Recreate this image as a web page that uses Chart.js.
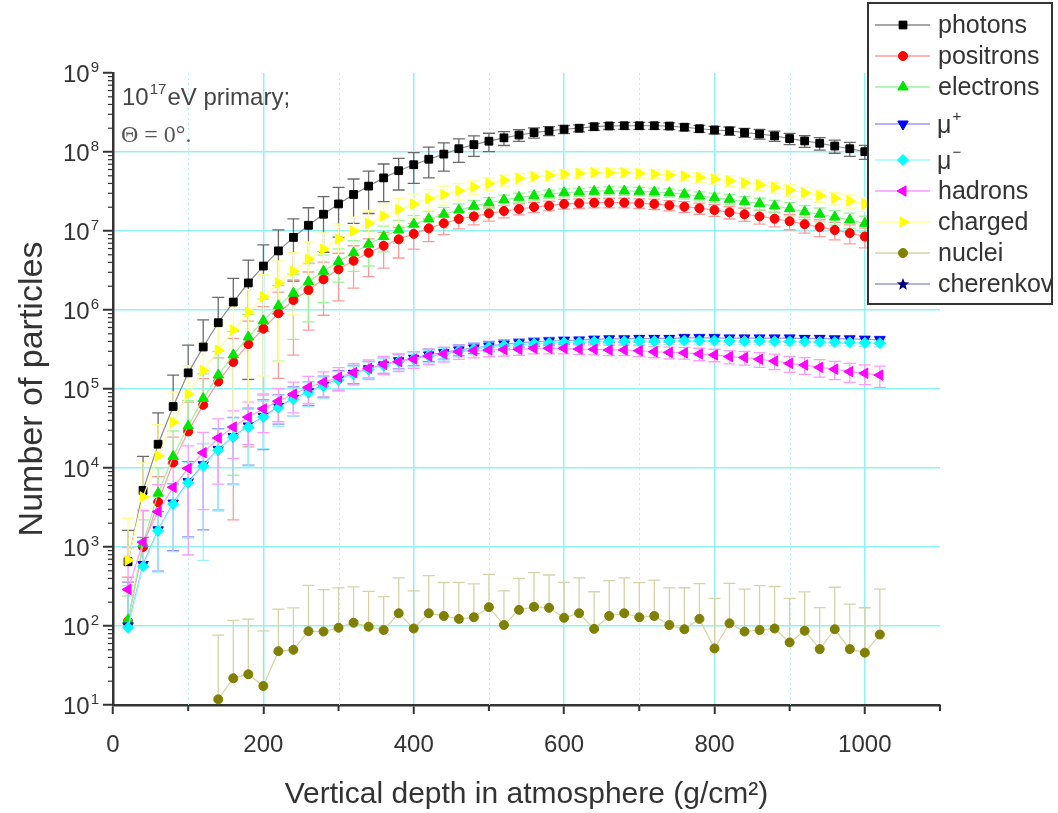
<!DOCTYPE html>
<html>
<head>
<meta charset="utf-8">
<script src="https://cdn.jsdelivr.net/npm/chart.js"></script>
<style>
  html, body { margin: 0; padding: 0; background: #fff; }
  canvas { display: block; }
</style>
</head>
<body>
<canvas id="myChart" width="1058" height="813"></canvas>
<script>
// depth in g/cm2
const depth = [20, 40, 60, 80, 100, 120, 140, 160, 180, 200,
  220, 240, 260, 280, 300, 320, 340, 360, 380, 400,
  420, 440, 460, 480, 500, 520, 540, 560, 580, 600,
  620, 640, 660, 680, 700, 720, 740, 760, 780, 800,
  820, 840, 860, 880, 900, 920, 940, 960, 980, 1000, 1020];

const seriesNames = ['photons', 'positrons', 'electrons', 'μ+', 'μ-', 'hadrons', 'charged', 'nuclei', 'cherenkov'];

const photons = [650, 5200, 2.0e4, 6.0e4, 1.6e5, 3.4e5, 6.9e5, 1.26e6, 2.2e6, 3.6e6,
  5.6e6, 8.3e6, 1.18e7, 1.63e7, 2.2e7, 2.9e7, 3.7e7, 4.7e7, 5.8e7, 6.9e7,
  8.1e7, 9.4e7, 1.1e8, 1.24e8, 1.37e8, 1.51e8, 1.64e8, 1.76e8, 1.85e8, 1.94e8,
  2.0e8, 2.09e8, 2.14e8, 2.15e8, 2.15e8, 2.15e8, 2.13e8, 2.06e8, 1.97e8, 1.9e8,
  1.85e8, 1.76e8, 1.69e8, 1.6e8, 1.48e8, 1.38e8, 1.29e8, 1.19e8, 1.1e8, 1.01e8, 9.3e7];
const positrons = [115, 1000, 3700, 1.17e4, 2.9e4, 6.3e4, 1.24e5, 2.2e5, 3.7e5, 5.8e5,
  9.1e5, 1.34e6, 1.79e6, 2.45e6, 3.27e6, 4.2e6, 5.3e6, 6.5e6, 7.85e6, 9.2e6,
  1.08e7, 1.25e7, 1.42e7, 1.53e7, 1.67e7, 1.79e7, 1.9e7, 2.01e7, 2.09e7, 2.2e7,
  2.24e7, 2.28e7, 2.28e7, 2.28e7, 2.24e7, 2.2e7, 2.11e7, 2.03e7, 1.94e7, 1.84e7,
  1.73e7, 1.63e7, 1.53e7, 1.43e7, 1.33e7, 1.22e7, 1.12e7, 1.03e7, 9.4e6, 8.5e6, 7.8e6];
const electrons = [120, 1100, 4800, 1.4e4, 3.4e4, 7.6e4, 1.5e5, 2.7e5, 4.55e5, 7.3e5,
  1.13e6, 1.63e6, 2.28e6, 3.1e6, 4.1e6, 5.3e6, 6.8e6, 8.5e6, 1.03e7, 1.22e7,
  1.42e7, 1.63e7, 1.84e7, 2.07e7, 2.28e7, 2.47e7, 2.67e7, 2.8e7, 2.94e7, 3.05e7,
  3.12e7, 3.18e7, 3.24e7, 3.21e7, 3.18e7, 3.12e7, 3.05e7, 2.92e7, 2.77e7, 2.64e7,
  2.52e7, 2.35e7, 2.22e7, 2.07e7, 1.92e7, 1.75e7, 1.63e7, 1.5e7, 1.38e7, 1.25e7, 1.15e7];
const muPlus = [100, 600, 1650, 3600, 6700, 1.1e4, 1.72e4, 2.5e4, 3.4e4, 4.5e4,
  6.0e4, 7.6e4, 9.2e4, 1.12e5, 1.33e5, 1.58e5, 1.8e5, 2.02e5, 2.28e5, 2.45e5,
  2.7e5, 2.88e5, 3.12e5, 3.3e5, 3.5e5, 3.7e5, 3.85e5, 3.95e5, 4.05e5, 4.1e5,
  4.15e5, 4.25e5, 4.3e5, 4.3e5, 4.35e5, 4.35e5, 4.35e5, 4.45e5, 4.45e5, 4.45e5,
  4.4e5, 4.4e5, 4.4e5, 4.4e5, 4.4e5, 4.35e5, 4.35e5, 4.3e5, 4.3e5, 4.25e5, 4.2e5];
const muMinus = [95, 570, 1600, 3500, 6500, 1.06e4, 1.68e4, 2.45e4, 3.3e4, 4.4e4,
  5.8e4, 7.4e4, 9.0e4, 1.09e5, 1.3e5, 1.54e5, 1.76e5, 1.98e5, 2.22e5, 2.4e5,
  2.62e5, 2.8e5, 3.02e5, 3.2e5, 3.38e5, 3.55e5, 3.65e5, 3.75e5, 3.82e5, 3.88e5,
  3.92e5, 3.98e5, 4.0e5, 4.02e5, 4.05e5, 4.05e5, 4.05e5, 4.1e5, 4.1e5, 4.1e5,
  4.05e5, 4.05e5, 4.05e5, 4.02e5, 4.0e5, 3.98e5, 3.95e5, 3.92e5, 3.9e5, 3.85e5, 3.8e5];
const hadrons = [290, 1150, 2800, 5700, 9900, 1.56e4, 2.4e4, 3.3e4, 4.4e4, 5.6e4,
  7.0e4, 8.6e4, 1.05e5, 1.22e5, 1.41e5, 1.61e5, 1.83e5, 2.05e5, 2.22e5, 2.4e5,
  2.62e5, 2.78e5, 2.96e5, 3.05e5, 3.12e5, 3.15e5, 3.18e5, 3.27e5, 3.27e5, 3.27e5,
  3.2e5, 3.18e5, 3.12e5, 3.12e5, 3.05e5, 2.96e5, 2.9e5, 2.87e5, 2.78e5, 2.7e5,
  2.57e5, 2.5e5, 2.38e5, 2.26e5, 2.11e5, 2.01e5, 1.88e5, 1.78e5, 1.66e5, 1.58e5, 1.5e5];
const charged = [680, 4300, 1.42e4, 3.8e4, 8.6e4, 1.72e5, 3.1e5, 5.6e5, 9.4e5, 1.47e6,
  2.2e6, 3.1e6, 4.4e6, 5.9e6, 7.9e6, 1.0e7, 1.25e7, 1.55e7, 1.88e7, 2.2e7,
  2.57e7, 2.9e7, 3.24e7, 3.6e7, 4.0e7, 4.4e7, 4.65e7, 4.87e7, 5.07e7, 5.27e7,
  5.37e7, 5.47e7, 5.47e7, 5.47e7, 5.37e7, 5.27e7, 5.1e7, 4.97e7, 4.78e7, 4.55e7,
  4.33e7, 4.08e7, 3.85e7, 3.57e7, 3.3e7, 3.05e7, 2.8e7, 2.6e7, 2.4e7, 2.2e7, 2.05e7];
const nuclei = [null, null, null, null, null, null, 11.8, 21.8, 24.5, 17.4,
  48, 50, 86, 85, 95, 110, 98, 89, 145, 93,
  145, 134, 123, 129, 173, 103, 160, 175, 170, 127,
  145, 92, 134, 145, 129, 134, 103, 91, 123, 52,
  108, 85, 89, 93, 62, 87, 51, 91, 51, 46, 78];
const cherenkov = [];

// error bars, as a fraction of the value
const photonsErr = [1.5, 1.7, 1.5, 1.5, 1.25, 1.2, 1.1, 1.0, 0.94, 0.85,
  0.84, 0.72, 0.67, 0.67, 0.62, 0.57, 0.55, 0.5, 0.43, 0.42,
  0.42, 0.39, 0.33, 0.29, 0.26, 0.2, 0.17, 0.15, 0.13, 0.12,
  0.1, 0.1, 0.1, 0.1, 0.1, 0.1, 0.1, 0.1, 0.1, 0.11,
  0.12, 0.13, 0.14, 0.15, 0.16, 0.17, 0.18, 0.19, 0.2, 0.2, 0.2];
const positronsErr = [2.6, 1.9, 1.1, 1.1, 1.35, 1.15, 1.0, 0.99, 0.95, 0.9,
  0.85, 0.8, 0.69, 0.65, 0.6, 0.55, 0.5, 0.48, 0.42, 0.36,
  0.32, 0.28, 0.25, 0.22, 0.2, 0.18, 0.16, 0.15, 0.14, 0.14,
  0.14, 0.14, 0.14, 0.14, 0.14, 0.15, 0.15, 0.16, 0.16, 0.17,
  0.18, 0.19, 0.2, 0.21, 0.22, 0.23, 0.24, 0.25, 0.27, 0.28, 0.3];
const electronsErr = [1.0, 1.0, 1.1, 1.1, 1.1, 1.05, 1.0, 0.97, 0.93, 0.88,
  0.8, 0.74, 0.69, 0.6, 0.45, 0.42, 0.47, 0.36, 0.32, 0.28,
  0.25, 0.22, 0.2, 0.18, 0.16, 0.15, 0.13, 0.12, 0.12, 0.12,
  0.12, 0.12, 0.12, 0.12, 0.12, 0.12, 0.12, 0.13, 0.13, 0.14,
  0.15, 0.16, 0.17, 0.18, 0.19, 0.2, 0.2, 0.21, 0.22, 0.23, 0.24];
const muPlusErr = [2.6, 1.2, 0.7, 0.75, 0.8, 0.85, 0.83, 0.75, 0.68, 0.62,
  0.4, 0.4, 0.33, 0.3, 0.28, 0.26, 0.24, 0.22, 0.21, 0.2,
  0.18, 0.17, 0.16, 0.15, 0.14, 0.13, 0.12, 0.12, 0.11, 0.11,
  0.1, 0.1, 0.1, 0.1, 0.1, 0.1, 0.1, 0.1, 0.1, 0.1,
  0.1, 0.1, 0.1, 0.1, 0.1, 0.1, 0.1, 0.1, 0.1, 0.1, 0.1];
const muMinusErr = [2.4, 1.1, 0.7, 0.75, 0.8, 0.936, 0.83, 0.75, 0.68, 0.6,
  0.42, 0.38, 0.34, 0.3, 0.28, 0.26, 0.24, 0.22, 0.21, 0.2,
  0.18, 0.17, 0.16, 0.15, 0.14, 0.13, 0.12, 0.12, 0.11, 0.11,
  0.1, 0.1, 0.1, 0.1, 0.1, 0.1, 0.1, 0.1, 0.1, 0.1,
  0.1, 0.1, 0.1, 0.1, 0.1, 0.1, 0.1, 0.1, 0.1, 0.1, 0.1];
const hadronsErr = [2.4, 1.5, 1.2, 1.0, 0.92, 0.81, 0.74, 0.6, 0.55, 0.5,
  0.45, 0.42, 0.38, 0.35, 0.32, 0.3, 0.28, 0.26, 0.25, 0.24,
  0.22, 0.21, 0.2, 0.19, 0.18, 0.17, 0.16, 0.15, 0.15, 0.15,
  0.15, 0.15, 0.15, 0.15, 0.16, 0.16, 0.17, 0.17, 0.18, 0.18,
  0.19, 0.2, 0.21, 0.22, 0.23, 0.24, 0.25, 0.26, 0.27, 0.28, 0.3];
const chargedErr = [2.4, 1.7, 1.5, 1.4, 1.3, 1.2, 1.1, 0.94, 0.93, 0.9,
  0.9, 0.72, 0.65, 0.6, 0.55, 0.5, 0.46, 0.42, 0.38, 0.34,
  0.3, 0.27, 0.24, 0.2, 0.18, 0.16, 0.15, 0.14, 0.13, 0.13,
  0.13, 0.13, 0.13, 0.13, 0.13, 0.13, 0.13, 0.13, 0.14, 0.14,
  0.15, 0.15, 0.16, 0.16, 0.17, 0.17, 0.18, 0.18, 0.19, 0.2, 0.2];
const nucleiErr = [null, null, null, null, null, null, 5.5, 4.4, 4.0, 4.0,
  2.4, 2.4, 2.8, 2.4, 2.2, 1.85, 1.8, 1.65, 1.8, 2.0,
  2.0, 1.65, 1.9, 1.65, 1.6, 1.7, 1.5, 1.7, 1.6, 1.8,
  1.8, 1.95, 1.8, 1.8, 1.75, 1.85, 1.95, 2.35, 1.8, 3.3,
  2.2, 2.45, 2.65, 2.4, 2.6, 2.1, 2.35, 2.4, 2.7, 2.7, 2.75];

const xTicks = [0, 200, 400, 600, 800, 1000];
const xMinorTicks = [100, 300, 500, 700, 900, 1100];
const yTicks = [1e1, 1e2, 1e3, 1e4, 1e5, 1e6, 1e7, 1e8, 1e9];

// a filled star for the cherenkov marker
const star = document.createElement('canvas');
star.width = 14; star.height = 14;
(function () {
  const c = star.getContext('2d');
  c.fillStyle = '#000080';
  c.beginPath();
  for (let i = 0; i < 10; i++) {
    const r = i % 2 ? 2.8 : 6.5;
    const a = -Math.PI / 2 + i * Math.PI / 5;
    c.lineTo(7 + r * Math.cos(a), 7.5 + r * Math.sin(a));
  }
  c.closePath();
  c.fill();
})();

const styles = {
  'photons':   { color: '#000000', line: '#8a8a8a', err: '#6a6a6a', shape: 'rect', rot: 0, r: 5.5 },
  'positrons': { color: '#ff0000', line: '#ff9a9a', err: '#ff9a9a', shape: 'circle', rot: 0, r: 4.5 },
  'electrons': { color: '#00e600', line: '#9af59a', err: '#9af59a', shape: 'triangle', rot: 0, r: 6 },
  'μ+':        { color: '#0000ff', line: '#9a9aff', err: '#8a8aff', shape: 'triangle', rot: 180, r: 6 },
  'μ-':        { color: '#00ffff', line: '#9affff', err: '#9af2ff', shape: 'rectRot', rot: 0, r: 5.5 },
  'hadrons':   { color: '#ff00ff', line: '#ff9aff', err: '#ff9aff', shape: 'triangle', rot: 270, r: 6 },
  'charged':   { color: '#ffff00', line: '#ffff9a', err: '#ffff9a', shape: 'triangle', rot: 90, r: 6 },
  'nuclei':    { color: '#808000', line: '#d4d4a8', err: '#d4d4a8', shape: 'circle', rot: 0, r: 4.5 },
  'cherenkov': { color: '#000080', line: '#9a9ac8', err: '#9a9ac8', shape: star, rot: 0, r: 6 }
};

const values = [photons, positrons, electrons, muPlus, muMinus, hadrons, charged, nuclei, cherenkov];
const errors = [photonsErr, positronsErr, electronsErr, muPlusErr, muMinusErr, hadronsErr, chargedErr, nucleiErr, []];

const datasets = seriesNames.map((name, k) => {
  const s = styles[name];
  return {
    label: name,
    data: values[k].map((v, i) => ({ x: depth[i], y: v })),
    err: errors[k],
    errColor: s.err,
    borderColor: s.line,
    borderWidth: 1.2,
    backgroundColor: s.color,
    pointBackgroundColor: s.color,
    pointBorderColor: s.color,
    pointBorderWidth: 1,
    pointStyle: s.shape,
    pointRotation: s.rot,
    pointRadius: s.r,
    tension: 0,
    order: seriesNames.length - k
  };
});

const errorBars = {
  id: 'errorBars',
  beforeDatasetsDraw(chart) {
    const { ctx, chartArea: a, scales: { x, y } } = chart;
    ctx.save();
    ctx.beginPath();
    ctx.rect(a.left, a.top, a.right - a.left, a.bottom - a.top);
    ctx.clip();
    chart.data.datasets.forEach(ds => {
      ctx.strokeStyle = ds.errColor;
      ctx.lineWidth = 1.3;
      ds.data.forEach((p, i) => {
        if (p.y == null || ds.err[i] == null) return;
        const e = p.y * ds.err[i];
        const px = x.getPixelForValue(p.x);
        const top = y.getPixelForValue(p.y + e);
        const low = p.y - e > 0 ? y.getPixelForValue(p.y - e) : y.getPixelForValue(p.y);
        ctx.beginPath();
        ctx.moveTo(px, top); ctx.lineTo(px, low);
        ctx.moveTo(px - 6, top); ctx.lineTo(px + 6, top);
        if (p.y - e > 0) { ctx.moveTo(px - 6, low); ctx.lineTo(px + 6, low); }
        ctx.stroke();
      });
    });
    ctx.restore();
  }
};

// minor ticks, dotted minor grid and the 10^n labels
const axisExtras = {
  id: 'axisExtras',
  beforeDatasetsDraw(chart) {
    const { ctx, chartArea: a, scales: { x, y } } = chart;
    ctx.save();
    ctx.strokeStyle = '#b4f3f6';
    ctx.lineWidth = 1;
    ctx.setLineDash([2, 3]);
    xMinorTicks.forEach(v => {
      if (v >= 1100) return;
      const px = Math.round(x.getPixelForValue(v)) + 0.5;
      ctx.beginPath(); ctx.moveTo(px, a.top); ctx.lineTo(px, a.bottom); ctx.stroke();
    });
    ctx.setLineDash([]);
    ctx.strokeStyle = '#333';
    ctx.lineWidth = 2;
    xMinorTicks.forEach(v => {
      const px = x.getPixelForValue(v);
      ctx.beginPath(); ctx.moveTo(px, a.bottom); ctx.lineTo(px, a.bottom + 6); ctx.stroke();
    });
    ctx.lineWidth = 1.2;
    for (let n = 1; n < 9; n++) {
      for (let k = 2; k < 10; k++) {
        const py = y.getPixelForValue(k * Math.pow(10, n));
        ctx.beginPath(); ctx.moveTo(a.left - 5, py); ctx.lineTo(a.left, py); ctx.stroke();
      }
    }
    ctx.fillStyle = '#333';
    ctx.textBaseline = 'alphabetic';
    yTicks.forEach(v => {
      const py = y.getPixelForValue(v);
      const exp = String(Math.round(Math.log10(v)));
      ctx.font = '15px "Liberation Sans", Arial, sans-serif';
      const we = ctx.measureText(exp).width;
      ctx.textAlign = 'left';
      ctx.fillText(exp, 99 - we, py - 1);
      ctx.font = '24px "Liberation Sans", Arial, sans-serif';
      ctx.textAlign = 'right';
      ctx.fillText('10', 98 - we, py + 9);
    });
    ctx.restore();
  }
};

const rowY = [25, 56, 87, 124, 160, 191, 222, 253, 284];

const legendBox = {
  id: 'legendBox',
  afterDraw(chart) {
    const { ctx } = chart;
    ctx.save();
    ctx.fillStyle = '#fff';
    ctx.fillRect(868, 3, 184, 301);
    ctx.strokeStyle = '#333';
    ctx.lineWidth = 2;
    ctx.strokeRect(868, 3, 184, 301);
    chart.data.datasets.forEach((ds, i) => {
      const yy = rowY[i];
      ctx.strokeStyle = ds.borderColor;
      ctx.lineWidth = 1.5;
      ctx.beginPath(); ctx.moveTo(875, yy); ctx.lineTo(930, yy); ctx.stroke();
      ctx.fillStyle = ds.pointBackgroundColor;
      ctx.strokeStyle = ds.pointBorderColor;
      ctx.lineWidth = 1;
      Chart.helpers.drawPoint(ctx, { pointStyle: ds.pointStyle, rotation: ds.pointRotation, radius: ds.pointRadius, borderWidth: 1 }, 903, yy);
      ctx.fillStyle = '#333';
      ctx.textBaseline = 'middle';
      ctx.font = '25px "Liberation Sans", Arial, sans-serif';
      if (ds.label.startsWith('μ')) {
        ctx.textBaseline = 'alphabetic';
        ctx.fillText('μ', 937, yy + 9);
        const w = ctx.measureText('μ').width;
        ctx.font = '15px "Liberation Sans", Arial, sans-serif';
        ctx.fillText(ds.label.slice(1) === '-' ? '−' : '+', 937 + w + 1, yy - 3);
      } else {
        ctx.fillText(ds.label, 938, yy + 1);
      }
    });
    // annotation
    ctx.fillStyle = '#444';
    ctx.textBaseline = 'alphabetic';
    ctx.font = '24px "Liberation Sans", Arial, sans-serif';
    ctx.fillText('10', 122, 105);
    let w = ctx.measureText('10').width;
    ctx.font = '15px "Liberation Sans", Arial, sans-serif';
    ctx.fillText('17', 122 + w + 1, 94);
    w += ctx.measureText('17').width + 2;
    ctx.font = '24px "Liberation Sans", Arial, sans-serif';
    ctx.fillText('eV primary;', 122 + w, 105);
    ctx.fillStyle = '#555';
    ctx.font = '24px "Liberation Serif", "Times New Roman", serif';
    ctx.fillText('Θ = 0°.', 121, 142);
    ctx.restore();
  }
};

Chart.defaults.font.family = '"Liberation Sans", Arial, sans-serif';
Chart.defaults.color = '#333';

const ctx = document.getElementById('myChart');
new Chart(ctx, {
  type: 'line',
  data: { datasets },
  options: {
    responsive: false,
    animation: false,
    layout: { padding: { top: 73, right: 118, left: 0, bottom: 0 } },
    plugins: { legend: { display: false }, tooltip: { enabled: false } },
    scales: {
      x: {
        type: 'linear',
        min: 0,
        max: 1100,
        afterFit: s => { s.height = 108; },
        afterBuildTicks: s => { s.ticks = xTicks.map(v => ({ value: v })); },
        ticks: {
          font: { size: 24 }, color: '#333', padding: 17, autoSkip: false, maxRotation: 0,
          callback: v => String(v)
        },
        grid: {
          color: c => (c.tick && c.tick.value > 0 ? '#8ef3f6' : 'rgba(0,0,0,0)'),
          lineWidth: 1.5,
          tickColor: '#333',
          tickLength: 9,
          tickWidth: 2
        },
        border: { color: '#333', width: 2.5 },
        title: {
          display: true,
          text: 'Vertical depth in atmosphere (g/cm²)',
          font: { size: 30 },
          color: '#333',
          padding: { top: 0, bottom: 0 }
        }
      },
      y: {
        type: 'logarithmic',
        min: 10,
        max: 1e9,
        afterFit: s => { s.width = 113; },
        afterBuildTicks: s => { s.ticks = yTicks.map(v => ({ value: v })); },
        ticks: { display: false },
        grid: {
          color: c => (c.tick && c.tick.value > 10 && c.tick.value < 1e9 ? '#8ef3f6' : 'rgba(0,0,0,0)'),
          lineWidth: 1.5,
          tickColor: '#333',
          tickLength: 10,
          tickWidth: 2
        },
        border: { color: '#333', width: 2.5 },
        title: {
          display: true,
          text: 'Number of particles',
          font: { size: 34 },
          color: '#333',
          padding: { top: 12, bottom: 0 }
        }
      }
    }
  },
  plugins: [axisExtras, errorBars, legendBox]
});
</script>
</body>
</html>
